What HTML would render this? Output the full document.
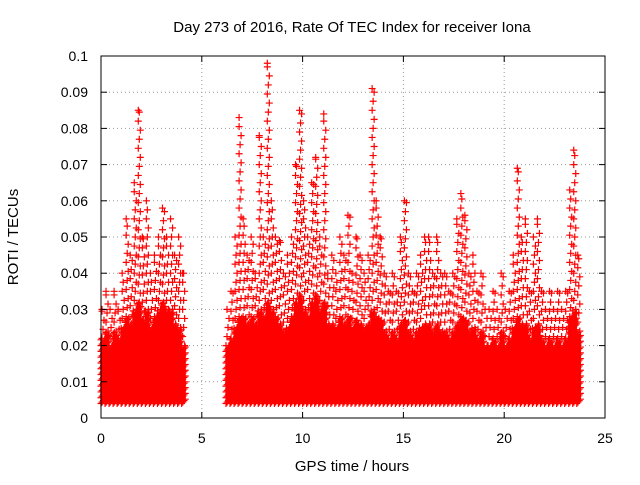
<!DOCTYPE html>
<html><head><meta charset="utf-8"><style>
body{margin:0;background:#fff}
svg text{font-family:"Liberation Sans","DejaVu Sans",sans-serif;fill:#000}
</style></head><body>
<svg id="chart" width="640" height="480" xmlns="http://www.w3.org/2000/svg">
<rect width="640" height="480" fill="#fff"/>
<g id="grid"></g>
<g id="marks"></g>
<rect x="101" y="56" width="504" height="362" fill="none" stroke="#000" stroke-width="1"/>
<g id="ticks"></g>
<text x="352" y="32" text-anchor="middle" font-size="15">Day 273 of 2016, Rate Of TEC Index for receiver Iona</text>
<text x="352" y="471" text-anchor="middle" font-size="15">GPS time / hours</text>
<text transform="translate(18,237) rotate(-90)" text-anchor="middle" font-size="15">ROTI / TECUs</text>
</svg>
<script>
const xTicks=[0,5,10,15,20,25];
const yTicks=[0,0.01,0.02,0.03,0.04,0.05,0.06,0.07,0.08,0.09,0.1];
const yTickLabels=["0","0.01","0.02","0.03","0.04","0.05","0.06","0.07","0.08","0.09","0.1"];
const binTimes=[0,0.2,0.4,0.6,0.8,1.0,1.2,1.4,1.6,1.8,2.0,2.2,2.4,2.6,2.8,3.0,3.2,3.4,3.6,3.8,4.0,
6.2,6.4,6.6,6.8,7.0,7.2,7.4,7.6,7.8,8.0,8.2,8.4,8.6,8.8,9.0,9.2,9.4,9.6,9.8,10.0,10.2,10.4,10.6,10.8,11.0,11.2,11.4,11.6,11.8,12.0,12.2,12.4,12.6,12.8,13.0,13.2,13.4,13.6,13.8,14.0,14.2,14.4,14.6,14.8,15.0,15.2,15.4,15.6,15.8,16.0,16.2,16.4,16.6,16.8,17.0,17.2,17.4,17.6,17.8,18.0,18.2,18.4,18.6,18.8,19.0,19.2,19.4,19.6,19.8,20.0,20.2,20.4,20.6,20.8,21.0,21.2,21.4,21.6,21.8,22.0,22.2,22.4,22.6,22.8,23.0,23.2,23.4,23.6];
const peakValues=[0.03,0.035,0.03,0.035,0.03,0.04,0.055,0.045,0.065,0.085,0.05,0.06,0.04,0.045,0.05,0.058,0.05,0.055,0.045,0.05,0.04,
0.03,0.035,0.05,0.083,0.055,0.045,0.05,0.04,0.078,0.05,0.098,0.06,0.05,0.049,0.04,0.045,0.05,0.07,0.085,0.06,0.05,0.065,0.072,0.05,0.084,0.04,0.045,0.04,0.05,0.045,0.056,0.04,0.05,0.045,0.04,0.045,0.091,0.06,0.05,0.04,0.035,0.04,0.035,0.05,0.06,0.04,0.035,0.04,0.045,0.05,0.05,0.04,0.05,0.04,0.04,0.035,0.04,0.055,0.062,0.056,0.04,0.045,0.035,0.04,0.03,0.03,0.035,0.03,0.04,0.03,0.035,0.045,0.069,0.05,0.055,0.035,0.05,0.055,0.035,0.03,0.035,0.03,0.035,0.03,0.035,0.063,0.074,0.045];
const coreValues=[0.022,0.024,0.02,0.024,0.022,0.025,0.028,0.026,0.03,0.032,0.027,0.03,0.025,0.028,0.03,0.032,0.03,0.03,0.026,0.025,0.02,
0.02,0.022,0.025,0.028,0.028,0.026,0.028,0.026,0.03,0.028,0.032,0.03,0.028,0.026,0.024,0.025,0.028,0.032,0.034,0.03,0.028,0.032,0.034,0.03,0.032,0.026,0.026,0.025,0.028,0.026,0.028,0.025,0.027,0.026,0.025,0.026,0.03,0.028,0.027,0.024,0.022,0.024,0.022,0.026,0.027,0.024,0.022,0.024,0.025,0.026,0.026,0.024,0.026,0.024,0.024,0.022,0.024,0.026,0.028,0.027,0.024,0.025,0.022,0.024,0.02,0.02,0.022,0.02,0.024,0.02,0.022,0.025,0.028,0.026,0.026,0.022,0.025,0.026,0.022,0.02,0.022,0.02,0.022,0.02,0.022,0.028,0.03,0.024];
const NS='http://www.w3.org/2000/svg';
const X=v=>101+v*(504/25), Y=v=>418-v*3620;
const grid=document.getElementById('grid'),ticks=document.getElementById('ticks'),marks=document.getElementById('marks');
function mk(t,a,p){const e=document.createElementNS(NS,t);for(const k in a)e.setAttribute(k,a[k]);p.appendChild(e);return e;}
xTicks.forEach(t=>{
 if(t>0&&t<25){const g=mk('line',{x1:X(t),x2:X(t),y1:56,y2:418,stroke:'#999','stroke-dasharray':'1,3'},grid);
 
 }
 mk('line',{x1:X(t),x2:X(t),y1:418,y2:412,stroke:'#000'},ticks);mk('line',{x1:X(t),x2:X(t),y1:56,y2:62,stroke:'#000'},ticks);
 const l=mk('text',{x:X(t),y:443,'text-anchor':'middle','font-size':14},ticks);l.textContent=t;
 
 
});
yTicks.forEach((t,i)=>{
 if(i>0&&i<yTicks.length-1){const g=mk('line',{x1:101,x2:605,y1:Y(t),y2:Y(t),stroke:'#999','stroke-dasharray':'1,3'},grid);
 
 }
 mk('line',{x1:101,x2:107,y1:Y(t),y2:Y(t),stroke:'#000'},ticks);mk('line',{x1:605,x2:599,y1:Y(t),y2:Y(t),stroke:'#000'},ticks);
 const l=mk('text',{x:88,y:Y(t)+5,'text-anchor':'end','font-size':14},ticks);l.textContent=yTickLabels[i];
 
 
});
binTimes.forEach((t,i)=>{
 let d='';const x0=X(t);
 const plus=(x,y)=>{d+=`M${x-3.5},${y}h7M${x},${y-3.5}v7`;};
 let k=0;
 for(let v=0.004;v<=coreValues[i];v+=0.0004){plus(x0+(k%4)*1.2,Y(v));k++;}
 for(let v=coreValues[i];v<=peakValues[i];v+=0.0025){plus(x0+1+(k%3),Y(v));k++;}
 plus(x0+1,Y(peakValues[i]));
 const p=mk('path',{d:d,stroke:'#f00','stroke-width':1.2,fill:'none'},marks);
 
 
});
</script>
</body></html>
